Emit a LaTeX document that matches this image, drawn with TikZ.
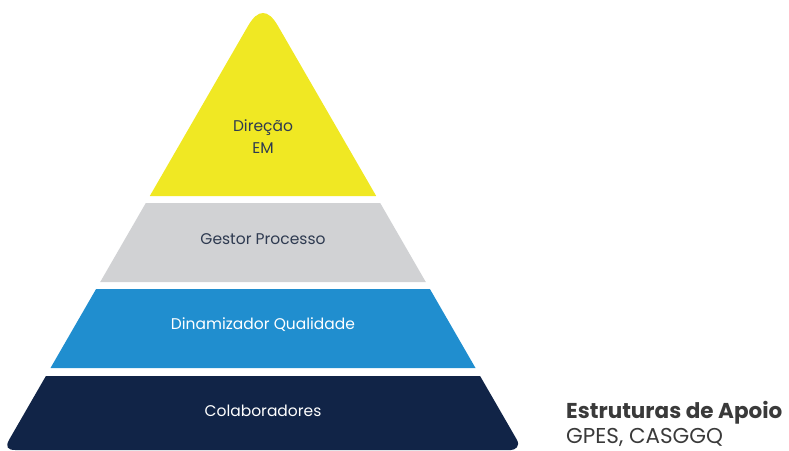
\documentclass[tikz,border=0pt]{standalone}
\usepackage{fontspec}
\setmainfont{Poppins}
\definecolor{pyYellow}{HTML}{F0E823}
\definecolor{pyGray}{HTML}{D1D2D4}
\definecolor{pyBlue}{HTML}{208ECF}
\definecolor{pyNavy}{HTML}{112447}
\definecolor{darkText}{HTML}{2E3A50}
\definecolor{sideText}{HTML}{3A3A3A}
\begin{document}
\begin{tikzpicture}[x=1pt,y=-1pt,
  darklabel/.style={text=darkText,font=\fontsize{15.5}{22}\selectfont,align=center},
  lightlabel/.style={text=white,font=\fontsize{15.5}{22}\selectfont,align=center}]
\useasboundingbox (0,0) rectangle (789,450);
% yellow apex
\fill[pyYellow] (149.8,196) -- (248,25.98) .. controls (258,8.66) and (268,8.66) .. (278,25.98) -- (376.2,196) -- cycle;
% gray band
\fill[pyGray] (145.8,203) -- (380.2,203) -- (425.8,282) -- (100.2,282) -- cycle;
% blue band
\fill[pyBlue] (96.1,289) -- (429.9,289) -- (475.5,368) -- (50.5,368) -- cycle;
% navy band
\fill[pyNavy] (45.9,376) -- (480.1,376) -- (516.8,439.6) .. controls (520.8,446.53) and (514.8,450) .. (510.8,450)
  -- (15.2,450) .. controls (7.2,450) and (5.2,446.53) .. (9.2,439.6) -- cycle;
\node[darklabel] (dir) at (263,137) {Direção\\EM};
\node[darklabel] (gest) at (263,239.5) {Gestor Processo};
\node[lightlabel] (dina) at (263,325) {Dinamizador Qualidade};
\node[lightlabel] (cola) at (263,411) {Colaboradores};
\node[anchor=base west,inner sep=0pt,text=sideText,font=\fontsize{21.5}{26}\selectfont\bfseries] (estr) at (566,418) {Estruturas de Apoio};
\node[anchor=base west,inner sep=0pt,text=sideText,font=\fontsize{21.5}{26}\selectfont] (gpes) at (566,443.5) {GPES, CASGGQ};
\end{tikzpicture}
\end{document}
